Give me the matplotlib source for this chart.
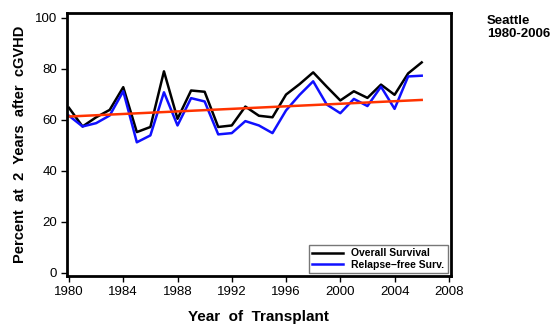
import matplotlib
matplotlib.use("Agg")
import matplotlib.pyplot as plt

plt.rcParams['font.family'] = ['Liberation Sans', 'DejaVu Sans']

years = list(range(1980, 2007))
overall = [64.7, 57.4, 61.0, 63.9, 72.8, 55.2, 57.2, 79.0, 60.4, 71.5, 71.0,
           57.2, 57.8, 65.2, 61.6, 61.0, 69.9, 74.0, 78.6, 73.0, 67.6, 71.2,
           68.6, 73.8, 69.8, 78.2, 82.5]
relapse_free = [61.6, 57.4, 58.7, 61.7, 71.2, 51.2, 53.9, 70.8, 57.8, 68.5, 67.2,
                54.3, 54.8, 59.5, 57.8, 54.8, 63.7, 69.8, 75.1, 66.0, 62.6, 68.2,
                65.4, 73.0, 64.3, 77.0, 77.3]
trend_years = [1980, 2006]
trend_vals = [61.3, 67.8]

xticks = [1980, 1984, 1988, 1992, 1996, 2000, 2004, 2008]
yticks = [0, 20, 40, 60, 80, 100]

fig = plt.figure(figsize=(5.58, 3.29), dpi=100)
ax = fig.add_axes([0.120, 0.161, 0.688, 0.799])

ax.plot(years, overall, color='black', lw=1.8, label='Overall Survival')
ax.plot(years, relapse_free, color='#1010ff', lw=1.8, label='Relapse\u2212free Surv.')
ax.plot(trend_years, trend_vals, color='#ff3300', lw=1.8)

ax.set_xlim(1979.85, 2008.15)
ax.set_ylim(-1.2, 101.8)
ax.set_xticks(xticks)
ax.set_yticks(yticks)
ax.tick_params(direction='out', length=4, width=1, labelsize=9.5, pad=3)
for s in ax.spines.values():
    s.set_linewidth(2)

ax.set_xlabel('Year  of  Transplant', fontsize=11, fontweight='bold', labelpad=9)
ax.set_ylabel('Percent  at  2  Years  after  cGVHD', fontsize=10.5, fontweight='bold', labelpad=6)

leg = ax.legend(loc='lower right', fontsize=7.5, frameon=True, fancybox=False,
                borderpad=0.3, handlelength=3.0, labelspacing=0.15, borderaxespad=0.3,
                prop={'weight': 'bold', 'size': 7.5})
leg.get_frame().set_edgecolor('#555555')
leg.get_frame().set_linewidth(1)

fig.text(0.873, 0.955, 'Seattle\n1980-2006', fontsize=9.5, fontweight='bold',
         va='top', ha='left', linespacing=1.1)

fig.savefig('out.png', dpi=100)
